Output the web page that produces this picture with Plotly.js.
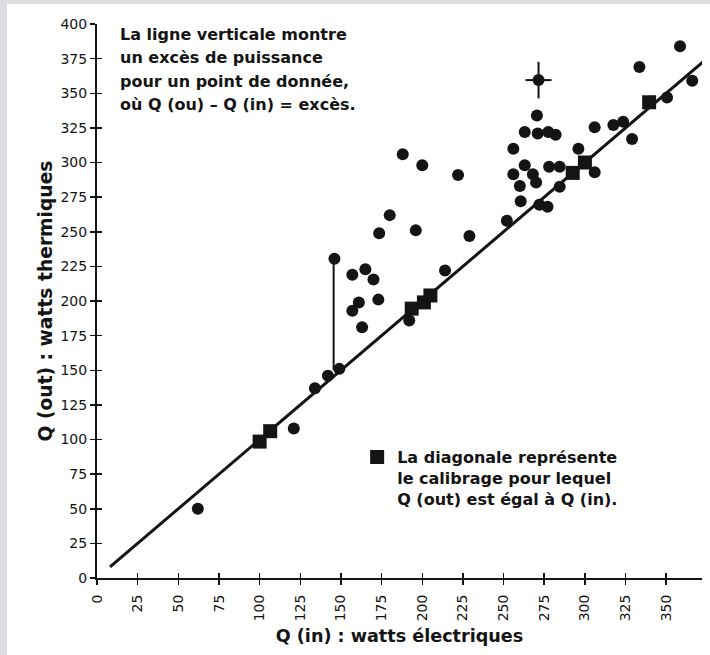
<!DOCTYPE html>
<html>
<head>
<meta charset="utf-8">
<script src="https://cdn.plot.ly/plotly-3.0.1.min.js"></script>
<style>
  html, body { margin: 0; padding: 0; background: #dcdde0; width: 710px; height: 655px; overflow: hidden; }
  #chart { position: absolute; left: 7px; top: 4px; width: 703px; height: 651px; background: #ffffff; }
</style>
</head>
<body>
<div id="chart"></div>
<script>
// Measured points (Q in, Q out) in watts
const dotX = [62,121,134,142,149,146,157,165,170,173,161,157,163,192,180,173.5,196,229,214,188,200,222,252,256,263,271,277.5,282,270.5,263,278,284.5,256,268,270,260,284.5,260.5,272,277,296,306,306,317.5,323.5,329,333.5,358.5,366,350.5];
const dotY = [50,108,137,146,151,230.5,219,223,215.5,201,199,193,181,186,262,249,251,247,222,306,298,291,258,310,322,321,322,320,334,298,297,297,291.5,291.5,285.5,283,282.5,272,269.5,268,310,293,325.5,327,329.5,317,369,384,359,347];

// Calibration points (squares)
const squareX = [100,106.5,193.5,201,205,292.5,300,339.5];
const squareY = [98.5,106,194.5,199,204,292.5,300,343.5];

// Point with error cross
const crossX = [271.5];
const crossY = [359.5];
const crossErrX = [8];
const crossErrY = [13.2];

// Diagonal Q(out) = Q(in)
const diagX = [8, 375];
const diagY = [8, 375];

// Vertical excess line
const excessX = [145.5, 145.5];
const excessY = [150, 230.5];

// Ticks
const xTicks = [0,25,50,75,100,125,150,175,200,225,250,275,300,325,350];
const yTicks = [0,25,50,75,100,125,150,175,200,225,250,275,300,325,350,375,400];

const INK = '#141414';
const FONT = 'DejaVu Sans, Verdana, sans-serif';

const traces = [
  { x: diagX, y: diagY, mode: 'lines', line: { color: INK, width: 3 }, showlegend: false, hoverinfo: 'skip' },
  { x: excessX, y: excessY, mode: 'lines', line: { color: INK, width: 2 }, showlegend: false, hoverinfo: 'skip' },
  { x: dotX, y: dotY, mode: 'markers', type: 'scatter', marker: { symbol: 'circle', size: 12, color: INK }, showlegend: false },
  { x: crossX, y: crossY, mode: 'markers', type: 'scatter', marker: { symbol: 'circle', size: 12, color: INK },
    error_x: { type: 'data', array: crossErrX, visible: true, width: 0, thickness: 2, color: INK },
    error_y: { type: 'data', array: crossErrY, visible: true, width: 0, thickness: 2, color: INK },
    showlegend: false },
  { x: squareX, y: squareY, mode: 'markers', type: 'scatter', marker: { symbol: 'square', size: 14, color: INK },
    name: 'La diagonale représente<br>le calibrage pour lequel<br>Q (out) est égal à Q (in).', showlegend: true },
  { x: [null], y: [null], xaxis: 'x2', yaxis: 'y2', mode: 'markers', showlegend: false, hoverinfo: 'skip' }
];

const baseAxis = {
  showgrid: false, zeroline: false, showline: true, linecolor: INK, linewidth: 2,
  ticks: 'outside', ticklen: 5, tickwidth: 1.5, tickcolor: INK,
  tickfont: { family: FONT, size: 14, color: INK }, fixedrange: true
};

function topLine(txt, py) {
  return { text: txt, xref: 'paper', yref: 'paper', x: 0.0347, y: (578 - py) / 554,
    xanchor: 'left', yanchor: 'middle', showarrow: false, align: 'left',
    font: { family: FONT, size: 16, color: INK, weight: 'bold' } };
}

const layout = {
  width: 703, height: 651,
  margin: { l: 90, r: 8, t: 20, b: 77 },
  paper_bgcolor: '#ffffff', plot_bgcolor: '#ffffff',
  font: { family: FONT, color: INK },
  xaxis: Object.assign({}, baseAxis, {
    range: [0, 372], tickmode: 'array', tickvals: xTicks, ticktext: xTicks.map(String),
    tickangle: -90, ticklabelstandoff: 4,
    title: { text: 'Q (in) : watts électriques', font: { family: FONT, size: 17.6, color: INK, weight: 'bold' }, standoff: 9 }
  }),
  yaxis: Object.assign({}, baseAxis, {
    range: [0, 400], tickmode: 'array', tickvals: yTicks, ticktext: yTicks.map(String),
    title: { text: 'Q (out) : watts thermiques', font: { family: FONT, size: 18.7, color: INK, weight: 'bold' }, standoff: 3 }
  }),
  xaxis2: { overlaying: 'x', range: [0, 372], side: 'bottom', anchor: 'y2', tickmode: 'array', tickvals: xTicks,
    ticks: 'inside', ticklen: 5, tickwidth: 1.5, tickcolor: INK, showticklabels: false,
    showgrid: false, zeroline: false, showline: false, fixedrange: true },
  yaxis2: { overlaying: 'y', range: [0, 400], side: 'left', anchor: 'x2', tickmode: 'array', tickvals: yTicks,
    ticks: 'inside', ticklen: 5, tickwidth: 1.5, tickcolor: INK, showticklabels: false,
    showgrid: false, zeroline: false, showline: false, fixedrange: true },
  showlegend: true,
  legend: {
    x: 0.43, y: (578 - 440) / 554, xanchor: 'left', yanchor: 'top', valign: 'top',
    bgcolor: 'rgba(0,0,0,0)', borderwidth: 0,
    font: { family: FONT, size: 16, color: INK, weight: 'bold' }
  },
  annotations: [
    topLine('La ligne verticale montre', 34.5),
    topLine('un excès de puissance', 58.0),
    topLine('pour un point de donnée,', 81.5),
    topLine('où Q (ou) – Q (in) = excès.', 104.5)
  ]
};

Plotly.newPlot('chart', traces, layout, { staticPlot: true, displayModeBar: false });
</script>
</body>
</html>
